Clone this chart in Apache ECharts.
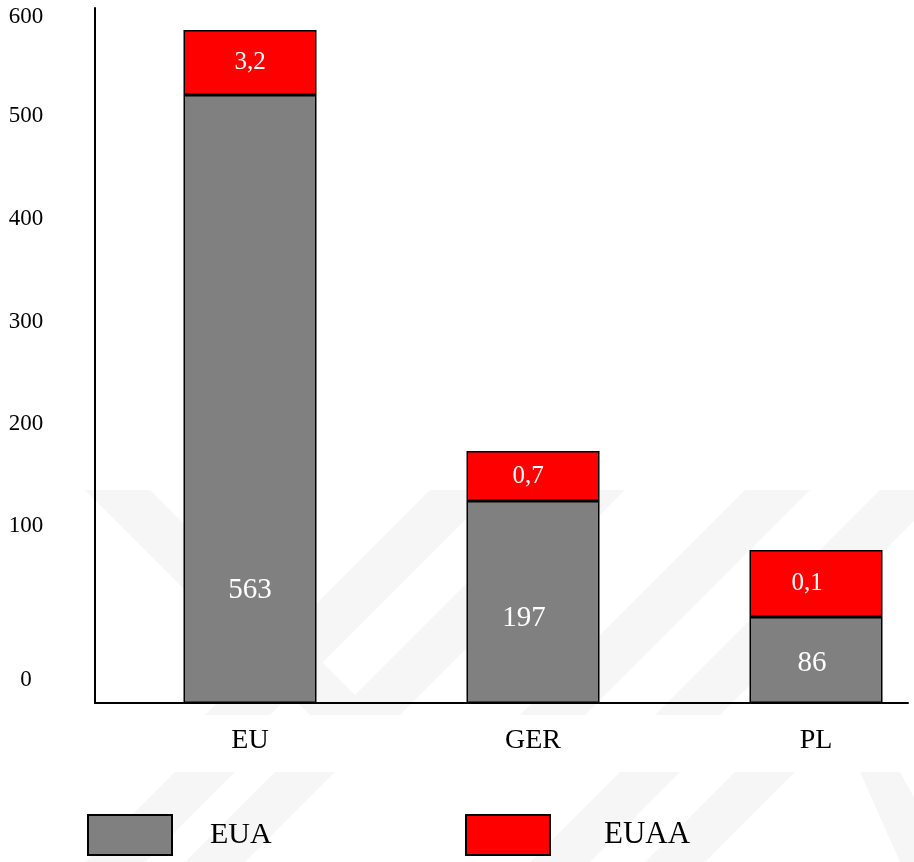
<!DOCTYPE html>
<html>
<head>
<meta charset="utf-8">
<script src="https://cdn.jsdelivr.net/npm/echarts@6/dist/echarts.min.js"></script>
<style>
  html, body { margin: 0; padding: 0; background: #fff; }
  #chartmain { width: 914px; height: 862px; }
</style>
</head>
<body>
<div id="chartmain"></div>
<script>
  // categories and values
  var categories = ['EU', 'GER', 'PL'];
  // printed values on the bars
  var euaValues = [563, 197, 86];
  var euaaValues = ['3,2', '0,7', '0,1'];
  // drawn bar heights as read against the picture's own axis (not to scale with the printed values)
  var euaHeights = [608, 202, 86];
  var euaaHeights = [65, 50, 67];
  // axis tick labels and where they sit on the axis
  var tickLabels = ['0', '100', '200', '300', '400', '500', '600'];
  var tickPositions = [23, 177, 279, 381, 484, 587, 686];

  // label placement tweaks (kept apart from the data)
  var euaLabelLift = [113, 85, 40];
  var euaLabelShift = [0, -9, -4];
  var euaaLabelShift = [0, -5, -9];

  var serif = '"Liberation Serif", "Times New Roman", serif';

  var euaData = [];
  var euaaData = [];
  for (var i = 0; i < categories.length; i++) {
    euaData.push({
      value: euaHeights[i],
      label: { distance: euaLabelLift[i], offset: [euaLabelShift[i], 0] }
    });
    euaaData.push({
      value: euaaHeights[i],
      label: { offset: [euaaLabelShift[i], 0] }
    });
  }

  // watermark bands (decoration only)
  var wmColor = '#f6f6f6';
  var wmBands = [
    [[85, 490], [150, 490], [375, 715], [310, 715]],
    [[430, 490], [495, 490], [270, 715], [205, 715]],
    [[560, 490], [625, 490], [400, 715], [335, 715]],
    [[745, 490], [810, 490], [585, 715], [520, 715]],
    [[880, 490], [945, 490], [720, 715], [655, 715]],
    [[175, 772], [235, 772], [145, 862], [85, 862]],
    [[275, 772], [335, 772], [245, 862], [185, 862]],
    [[620, 772], [680, 772], [590, 862], [530, 862]],
    [[735, 772], [795, 772], [705, 862], [645, 862]],
    [[860, 772], [900, 772], [950, 862], [900, 862]]
  ];
  var graphics = wmBands.map(function (pts) {
    return { type: 'polygon', z: -10, silent: true, shape: { points: pts }, style: { fill: wmColor } };
  });

  var myChart = echarts.init(document.getElementById('chartmain'));
  var option = {
    backgroundColor: '#fff',
    animation: false,
    graphic: graphics,
    grid: [
      { left: 108.5, width: 849, top: 8, bottom: 159, outerBoundsMode: 'none', containLabel: false },
      { left: 95, right: 6, top: 8, bottom: 159, outerBoundsMode: 'none', containLabel: false }
    ],
    xAxis: [{
      type: 'category',
      gridIndex: 0,
      data: categories,
      axisLine: { show: false },
      axisTick: { show: false },
      axisLabel: { color: '#000', fontFamily: serif, fontSize: 28, margin: 24 }
    }, {
      type: 'category',
      gridIndex: 1,
      data: [''],
      axisLine: { show: true, lineStyle: { color: '#000', width: 2 } },
      axisTick: { show: false },
      axisLabel: { show: false }
    }],
    yAxis: [{
      type: 'value',
      gridIndex: 0,
      min: 0,
      max: 695,
      show: false
    }, {
      type: 'value',
      gridIndex: 1,
      min: 0,
      max: 695,
      splitLine: { show: false },
      axisLine: { show: true, lineStyle: { color: '#000', width: 2 } },
      axisTick: { show: false },
      axisLabel: {
        customValues: tickPositions,
        formatter: function (v) {
          var k = tickPositions.indexOf(v);
          return k >= 0 ? tickLabels[k] : '';
        },
        color: '#000',
        fontFamily: serif,
        fontSize: 23,
        align: 'center',
        margin: 69
      }
    }],
    legend: [{
      data: ['EUA'],
      left: 87,
      top: 814,
      padding: 0,
      icon: 'rect',
      itemWidth: 84,
      itemHeight: 40,
      itemStyle: { borderColor: '#000', borderWidth: 2 },
      textStyle: { color: '#000', fontFamily: serif, fontSize: 30, padding: [0, 0, 0, 33] }
    }, {
      data: ['EUAA'],
      left: 465,
      top: 814,
      padding: 0,
      icon: 'rect',
      itemWidth: 84,
      itemHeight: 40,
      itemStyle: { borderColor: '#000', borderWidth: 2 },
      textStyle: { color: '#000', fontFamily: serif, fontSize: 31, padding: [0, 0, 12, 49] }
    }],
    series: [{
      name: 'EUA',
      type: 'bar',
      stack: 'total',
      xAxisIndex: 0,
      yAxisIndex: 0,
      barWidth: 133,
      itemStyle: { color: '#808080', borderColor: '#000', borderWidth: 1.5 },
      label: {
        show: true,
        position: 'insideBottom',
        verticalAlign: 'middle',
        color: '#fff',
        fontFamily: serif,
        fontSize: 29,
        formatter: function (p) { return euaValues[p.dataIndex]; }
      },
      data: euaData
    }, {
      name: 'EUAA',
      type: 'bar',
      stack: 'total',
      xAxisIndex: 0,
      yAxisIndex: 0,
      barWidth: 133,
      itemStyle: { color: '#ff0000', borderColor: '#000', borderWidth: 1.5 },
      label: {
        show: true,
        position: 'inside',
        color: '#fff',
        fontFamily: serif,
        fontSize: 25,
        formatter: function (p) { return euaaValues[p.dataIndex]; }
      },
      data: euaaData
    }]
  };
  myChart.setOption(option);
</script>
</body>
</html>
